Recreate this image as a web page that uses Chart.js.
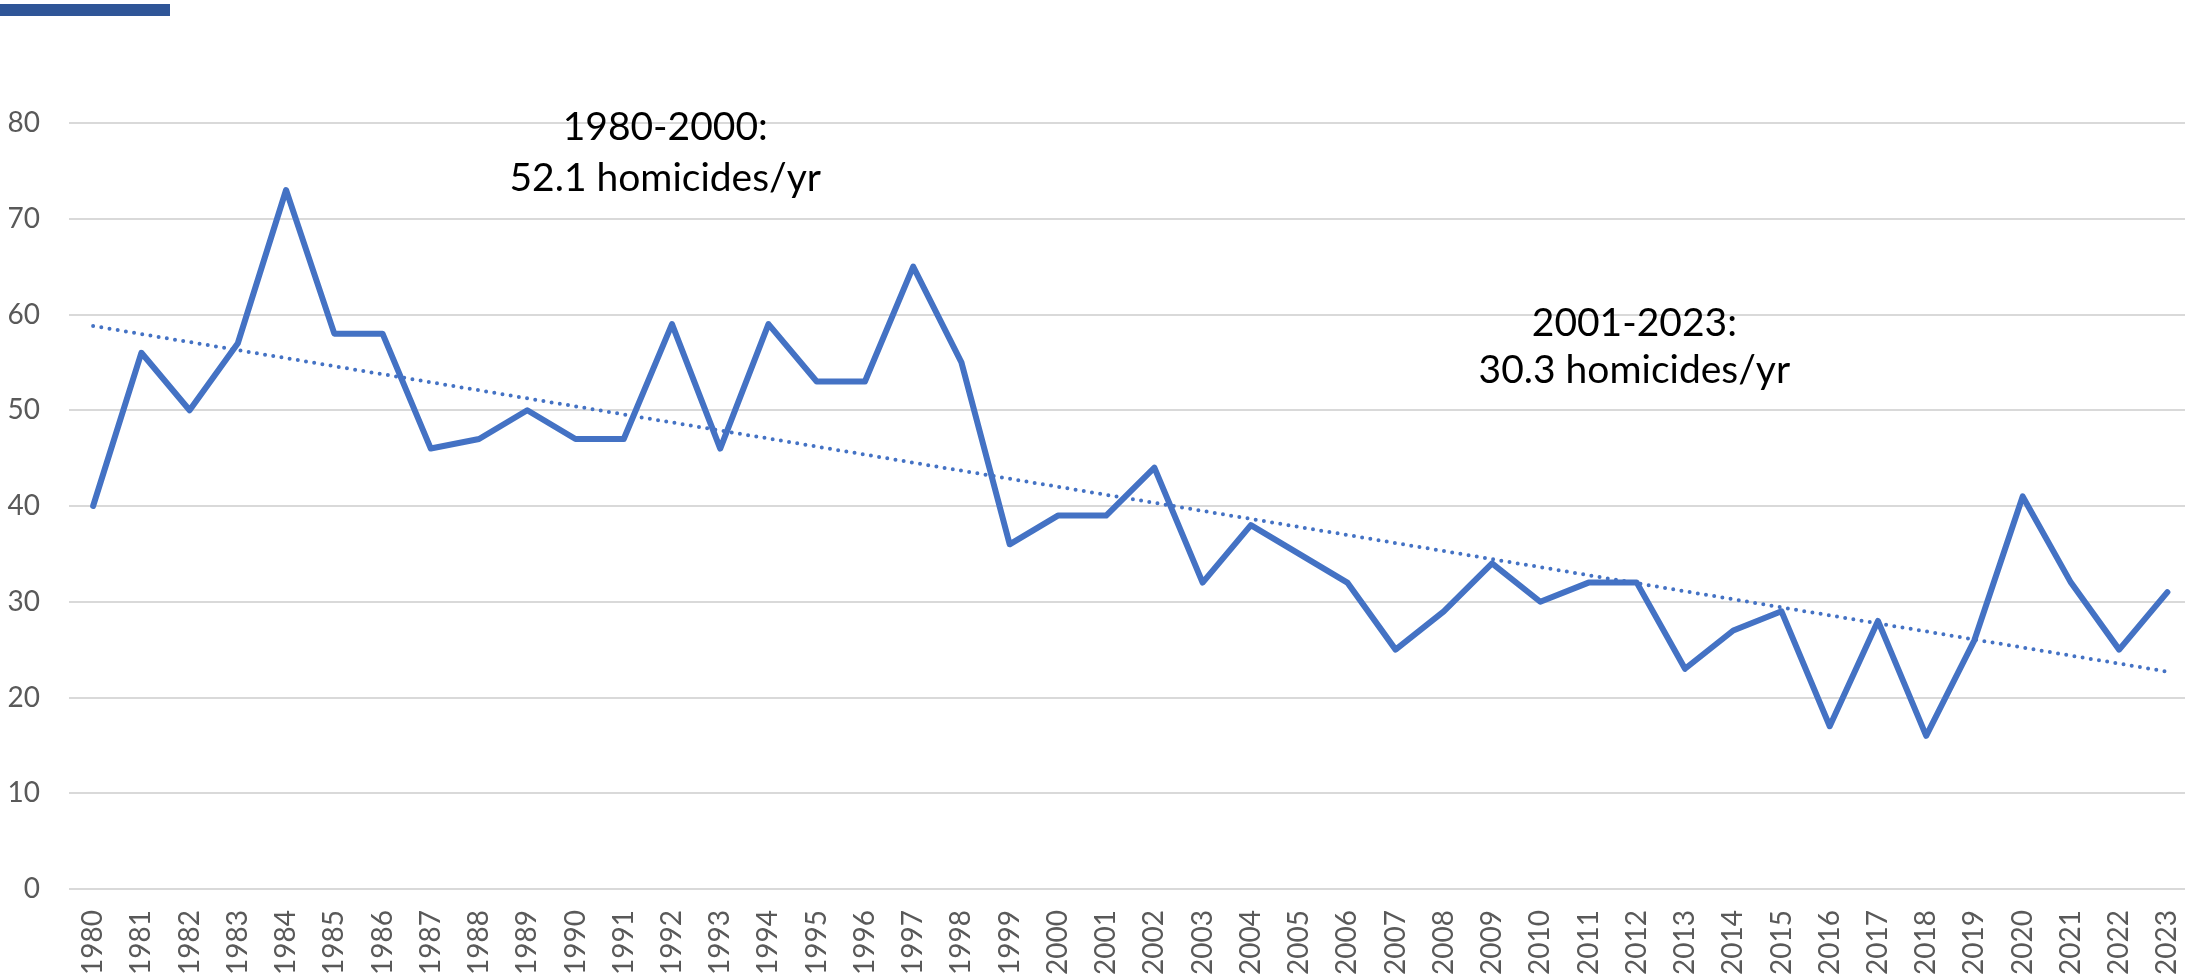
<!DOCTYPE html>
<html>
<head>
<meta charset="utf-8">
<script src="https://cdn.jsdelivr.net/npm/chart.js@4"></script>
<style>
  html, body { margin: 0; padding: 0; background: #fff; overflow: hidden; }
  #wrap { position: relative; width: 2201px; height: 978px; }
  #topbar { position: absolute; left: 0; top: 4px; width: 170px; height: 12px; background: #2F5597; }
</style>
</head>
<body>
<div id="wrap">
  <div id="topbar"></div>
  <canvas id="chart" width="2201" height="978"></canvas>
</div>
<script>
// Years on the x axis
const years = [
  '1980','1981','1982','1983','1984','1985','1986','1987','1988','1989',
  '1990','1991','1992','1993','1994','1995','1996','1997','1998','1999',
  '2000','2001','2002','2003','2004','2005','2006','2007','2008','2009',
  '2010','2011','2012','2013','2014','2015','2016','2017','2018','2019',
  '2020','2021','2022','2023'
];

// Homicides per year
const homicides = [
  40, 56, 50, 57, 73, 58, 58, 46, 47, 50,
  47, 47, 59, 46, 59, 53, 53, 65, 55, 36,
  39, 39, 44, 32, 38, 35, 32, 25, 29, 34,
  30, 32, 32, 23, 27, 29, 17, 28, 16, 26,
  41, 32, 25, 31
];

// Linear trend line, read at its two ends (1980 and 2023)
const trendStart = 58.8;
const trendEnd = 22.7;
const trend = years.map((y, i) => i === 0 ? trendStart : (i === years.length - 1 ? trendEnd : null));

// Text notes on the chart
const noteTexts = [
  ['1980-2000:', '52.1 homicides/yr'],
  ['2001-2023:', '30.3 homicides/yr']
];

const tickFont = { family: 'Lato', size: 28 };
const tickColor = '#595959';

// draws the period averages as text, placed through the scales
const notesPlugin = {
  id: 'notes',
  afterDatasetsDraw(chart, args, opts) {
    const { ctx, scales: { x, y } } = chart;
    ctx.save();
    ctx.fillStyle = '#000';
    ctx.font = '39px Lato';
    ctx.textAlign = 'center';
    ctx.textBaseline = 'alphabetic';
    opts.places.forEach((p, n) => {
      const px = x.getPixelForValue(p.x);
      noteTexts[n].forEach((line, k) => {
        ctx.fillText(line, px, y.getPixelForValue(p.y[k]));
      });
    });
    ctx.restore();
  }
};

const ctx = document.getElementById('chart').getContext('2d');
const chart = new Chart(ctx, {
  type: 'line',
  data: {
    labels: years,
    datasets: [
      {
        label: 'Linear trend',
        data: trend,
        spanGaps: true,
        borderColor: '#4472C4',
        borderWidth: 4,
        borderDash: [0, 8.3],
        borderCapStyle: 'round',
        pointRadius: 0,
        fill: false
      },
      {
        label: 'Homicides',
        data: homicides,
        borderColor: '#4472C4',
        borderWidth: 6,
        borderJoinStyle: 'round',
        borderCapStyle: 'round',
        pointRadius: 0,
        tension: 0,
        fill: false
      }
    ]
  },
  options: {
    responsive: false,
    animation: false,
    events: [],
    layout: { padding: { top: 123, left: 0, right: 0, bottom: 0 } },
    plugins: {
      legend: { display: false },
      tooltip: { enabled: false },
      notes: {
        places: [
          { x: 11.86, y: [78.2, 72.9] },
          { x: 31.95, y: [57.8, 52.8] }
        ]
      }
    },
    scales: {
      x: {
        type: 'category',
        offset: true,
        // invisible tick marks keep the labels off the axis without side padding
        grid: {
          display: true,
          drawOnChartArea: false,
          drawTicks: true,
          tickLength: 21,
          color: 'rgba(0,0,0,0)'
        },
        border: { display: false },
        ticks: {
          autoSkip: false,
          minRotation: 90,
          maxRotation: 90,
          padding: 0,
          font: tickFont,
          color: tickColor
        },
        afterFit(scale) { scale.height = 89; }
      },
      y: {
        min: 0,
        max: 80,
        grid: { color: '#D9D9D9', lineWidth: 2, drawTicks: false },
        border: { display: false },
        ticks: {
          stepSize: 10,
          padding: 29,
          font: tickFont,
          color: tickColor
        },
        afterFit(scale) { scale.width = 69; }
      }
    }
  },
  plugins: [notesPlugin]
});
</script>
</body>
</html>
